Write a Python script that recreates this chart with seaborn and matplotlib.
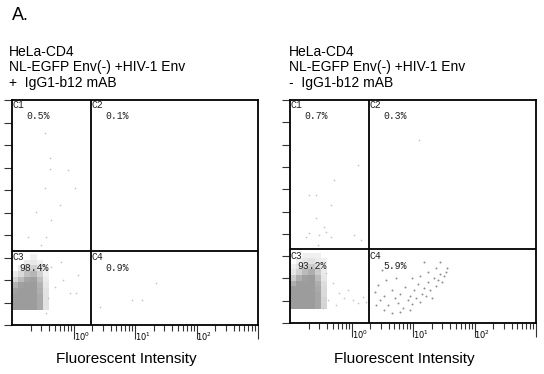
import numpy as np
import pandas as pd
import matplotlib
matplotlib.use("Agg")
import matplotlib.pyplot as plt
from matplotlib.colors import LinearSegmentedColormap
from matplotlib.ticker import LogLocator, NullFormatter
import seaborn as sns

plt.rcParams['font.family'] = ['Liberation Sans', 'DejaVu Sans']

# --- data ---
panel_headers = [["HeLa-CD4", "NL-EGFP Env(-) +HIV-1 Env", "+  IgG1-b12 mAB"],
                 ["HeLa-CD4", "NL-EGFP Env(-) +HIV-1 Env", "-  IgG1-b12 mAB"]]
quadrant_names = ["C1", "C2", "C3", "C4"]
pct_left = ["0.5%", "0.1%", "98.4%", "0.9%"]
pct_right = ["0.7%", "0.3%", "93.2%", "5.9%"]

gate_x = 1.9     # fluorescence gate
gate_y = 3.3     # side scatter gate

# dense population: cells in log10(intensity) x scatter
cell_log_edges = [-1.0, -0.9, -0.8, -0.7, -0.6, -0.5, -0.4]
cell_y_edges = [0.65, 0.9, 1.15, 1.4, 1.65, 1.9, 2.15, 2.4, 2.65, 2.9, 3.15]
dens_left = [
    [1.0, 1.0, 1.0, 1.0, 0.85, 0.2],
    [1.0, 1.0, 1.0, 1.0, 0.85, 0.2],
    [1.0, 1.0, 1.0, 1.0, 0.85, 0.2],
    [0.95, 1.0, 1.0, 1.0, 0.8, 0.2],
    [0.75, 0.95, 1.0, 1.0, 0.75, 0.15],
    [0.35, 0.65, 0.9, 0.95, 0.6, 0.1],
    [0.1, 0.3, 0.6, 0.7, 0.4, 0.05],
    [0.0, 0.1, 0.3, 0.4, 0.2, 0.05],
    [0.0, 0.0, 0.1, 0.15, 0.05, 0.0],
    [0.0, 0.0, 0.0, 0.05, 0.0, 0.0],
]
dens_right = [
    [1.0, 1.0, 1.0, 1.0, 0.9, 0.35],
    [1.0, 1.0, 1.0, 1.0, 0.9, 0.35],
    [1.0, 1.0, 1.0, 1.0, 0.9, 0.3],
    [1.0, 1.0, 1.0, 1.0, 0.85, 0.3],
    [0.8, 1.0, 1.0, 1.0, 0.8, 0.25],
    [0.45, 0.8, 0.95, 1.0, 0.65, 0.15],
    [0.15, 0.4, 0.65, 0.8, 0.45, 0.1],
    [0.05, 0.15, 0.35, 0.45, 0.25, 0.05],
    [0.0, 0.05, 0.15, 0.2, 0.1, 0.05],
    [0.0, 0.0, 0.05, 0.05, 0.05, 0.0],
]

# sparse events (intensity, scatter)
sparse_left_x = [0.62, 0.67, 0.87, 1.17, 1.09, 0.50, 0.38, 0.36, 0.30, 0.43,
                 0.34, 0.41, 0.41, 0.81, 0.34, 1.05, 0.60, 0.43, 0.245, 0.18,
                 0.36, 0.30, 22.3, 9.1, 13.2, 2.66]
sparse_left_y = [2.8, 2.0, 1.42, 2.22, 1.42, 1.69, 1.2, 0.53, 2.44, 2.6,
                 8.53, 7.42, 6.95, 6.89, 6.09, 6.09, 5.33, 4.67, 5.02, 3.91,
                 3.91, 3.56, 1.87, 1.11, 1.11, 0.8]
sparse_right_x = [1.28, 0.52, 0.265, 0.204, 0.46, 0.265, 0.357, 0.204, 0.296, 0.46,
                  1.10, 1.43, 0.285, 0.182, 0.385, 12.5,
                  0.385, 0.50, 0.63, 0.755, 1.06, 1.28, 1.72, 0.415, 0.56, 0.344,
                  0.877, 1.54, 0.296, 0.237]
sparse_right_y = [7.09, 6.41, 5.74, 5.74, 5.29, 4.71, 4.30, 4.04, 3.95, 3.86,
                  3.95, 3.72, 3.50, 3.86, 4.08, 8.2,
                  2.24, 1.79, 1.35, 1.12, 1.03, 0.90, 0.94, 1.03, 0.81, 0.67,
                  1.48, 1.17, 2.38, 2.60]
# positive (C4) events in the right panel
pos_right_x = [2.41, 2.90, 3.37, 3.92, 4.56, 5.09, 5.70, 6.15, 6.87, 7.41,
               8.30, 8.94, 9.63, 10.4, 11.2, 12.1, 13.0, 14.0, 15.1, 16.3,
               17.5, 18.9, 20.4, 21.9, 23.7, 25.5, 27.5, 29.6, 31.9, 34.4,
               35.7, 3.37, 4.56, 6.15, 8.94, 2.70, 3.64, 5.29, 9.63, 13.0,
               17.5, 23.7, 15.1, 27.5, 3.13, 2.50]
pos_right_y = [1.39, 1.03, 1.21, 0.81, 1.48, 1.12, 0.90, 1.30, 0.67, 1.61,
               1.03, 1.21, 0.85, 1.48, 1.12, 1.75, 0.94, 1.30, 1.57, 1.21,
               1.84, 1.48, 1.12, 2.02, 1.66, 1.93, 2.20, 1.84, 2.11, 2.29,
               2.47, 0.58, 0.45, 0.49, 0.58, 1.70, 1.93, 2.02, 2.02, 2.11,
               2.29, 2.47, 2.74, 2.74, 2.38, 0.81]

dens_cmap = LinearSegmentedColormap.from_list("facs", ["#f4f4f4", "#9c9c9c"])


def cell_table(dens):
    rows = []
    for i in range(len(cell_y_edges) - 1):
        for j in range(len(cell_log_edges) - 1):
            xc = 10 ** ((cell_log_edges[j] + cell_log_edges[j + 1]) / 2)
            yc = (cell_y_edges[i] + cell_y_edges[i + 1]) / 2
            rows.append((xc, yc, dens[i][j]))
    return pd.DataFrame(rows, columns=["intensity", "scatter", "w"])


def draw_panel(ax, dens, sx, sy, pcts):
    df = cell_table(dens)
    sns.histplot(data=df, x="intensity", y="scatter", weights="w",
                 bins=[cell_log_edges, cell_y_edges], log_scale=(True, False),
                 cmap=dens_cmap, vmin=0, vmax=1, cbar=False, ax=ax,
                 linewidth=0, rasterized=True)
    sns.scatterplot(x=sx, y=sy, ax=ax, s=1.5, color="#c4c4c4", linewidth=0)

    ax.set_xscale("log")
    ax.set_xlim(0.1, 1000)
    ax.set_ylim(0, 10)
    ax.axvline(gate_x, color="black", lw=1.3)
    ax.axhline(gate_y, color="black", lw=1.3)
    for sp in ax.spines.values():
        sp.set_color("black")
        sp.set_linewidth(1.3)

    # y ticks: plain marks, no labels
    ax.set_yticks(range(0, 11))
    ax.set_yticklabels([])
    ax.tick_params(axis="y", direction="out", length=6, width=0.8, color="#333333")

    # x ticks: log decades
    ax.set_xticks([1, 10, 100, 1000])
    ax.set_xticklabels([r"$10^0$", r"$10^1$", r"$10^2$", ""], fontsize=6,
                       family="DejaVu Serif")
    for lab in ax.get_xticklabels():
        lab.set_horizontalalignment("left")
    ax.xaxis.set_minor_locator(LogLocator(base=10, subs=np.arange(2, 10)))
    ax.xaxis.set_minor_formatter(NullFormatter())
    ax.tick_params(axis="x", which="major", direction="out", length=10,
                   width=0.8, pad=-6, color="#333333")
    ax.tick_params(axis="x", which="minor", direction="out", length=4,
                   width=0.8, color="#333333")
    ax.set_xlabel("")
    ax.set_ylabel("")

    # quadrant names and percentages
    mono = dict(family="Liberation Mono", fontsize=7, color="#222222")
    ax.text(0.102, 9.98, quadrant_names[0], ha="left", va="top", **mono)
    ax.text(0.17, 9.3, pcts[0], ha="left", va="center", **mono)
    ax.text(gate_x * 1.04, 9.98, quadrant_names[1], ha="left", va="top", **mono)
    ax.text(3.3, 9.3, pcts[1], ha="left", va="center", **mono)
    ax.text(0.102, gate_y - 0.05, quadrant_names[2], ha="left", va="top", **mono)
    ax.text(0.13, 2.55, pcts[2], ha="left", va="center", **mono)
    ax.text(gate_x * 1.04, gate_y - 0.05, quadrant_names[3], ha="left", va="top", **mono)
    ax.text(3.3, 2.55, pcts[3], ha="left", va="center", **mono)


fig = plt.figure(figsize=(5.44, 3.74), dpi=100)
W, H = 544.0, 374.0
ax1 = fig.add_axes([12 / W, 1 - 325 / H, 246 / W, 225 / H])
ax2 = fig.add_axes([290 / W, 1 - 323 / H, 246 / W, 223 / H])

draw_panel(ax1, dens_left, sparse_left_x, sparse_left_y, pct_left)
draw_panel(ax2, dens_right, sparse_right_x, sparse_right_y, pct_right)
sns.scatterplot(x=pos_right_x, y=pos_right_y, ax=ax2, s=2, color="#8e8e8e",
                linewidth=0)

fig.text(12 / W, 1 - 15 / H, "A.", fontsize=13, ha="left", va="center")
for k, x0 in enumerate([9, 289]):
    for i, line in enumerate(panel_headers[k]):
        fig.text(x0 / W, 1 - (52 + 15.5 * i) / H, line, fontsize=10,
                 ha="left", va="center")

fig.text(126 / W, 1 - 359 / H, "Fluorescent Intensity", fontsize=11,
         ha="center", va="center")
fig.text(404 / W, 1 - 359 / H, "Fluorescent Intensity", fontsize=11,
         ha="center", va="center")

fig.savefig("out.png", dpi=100)
